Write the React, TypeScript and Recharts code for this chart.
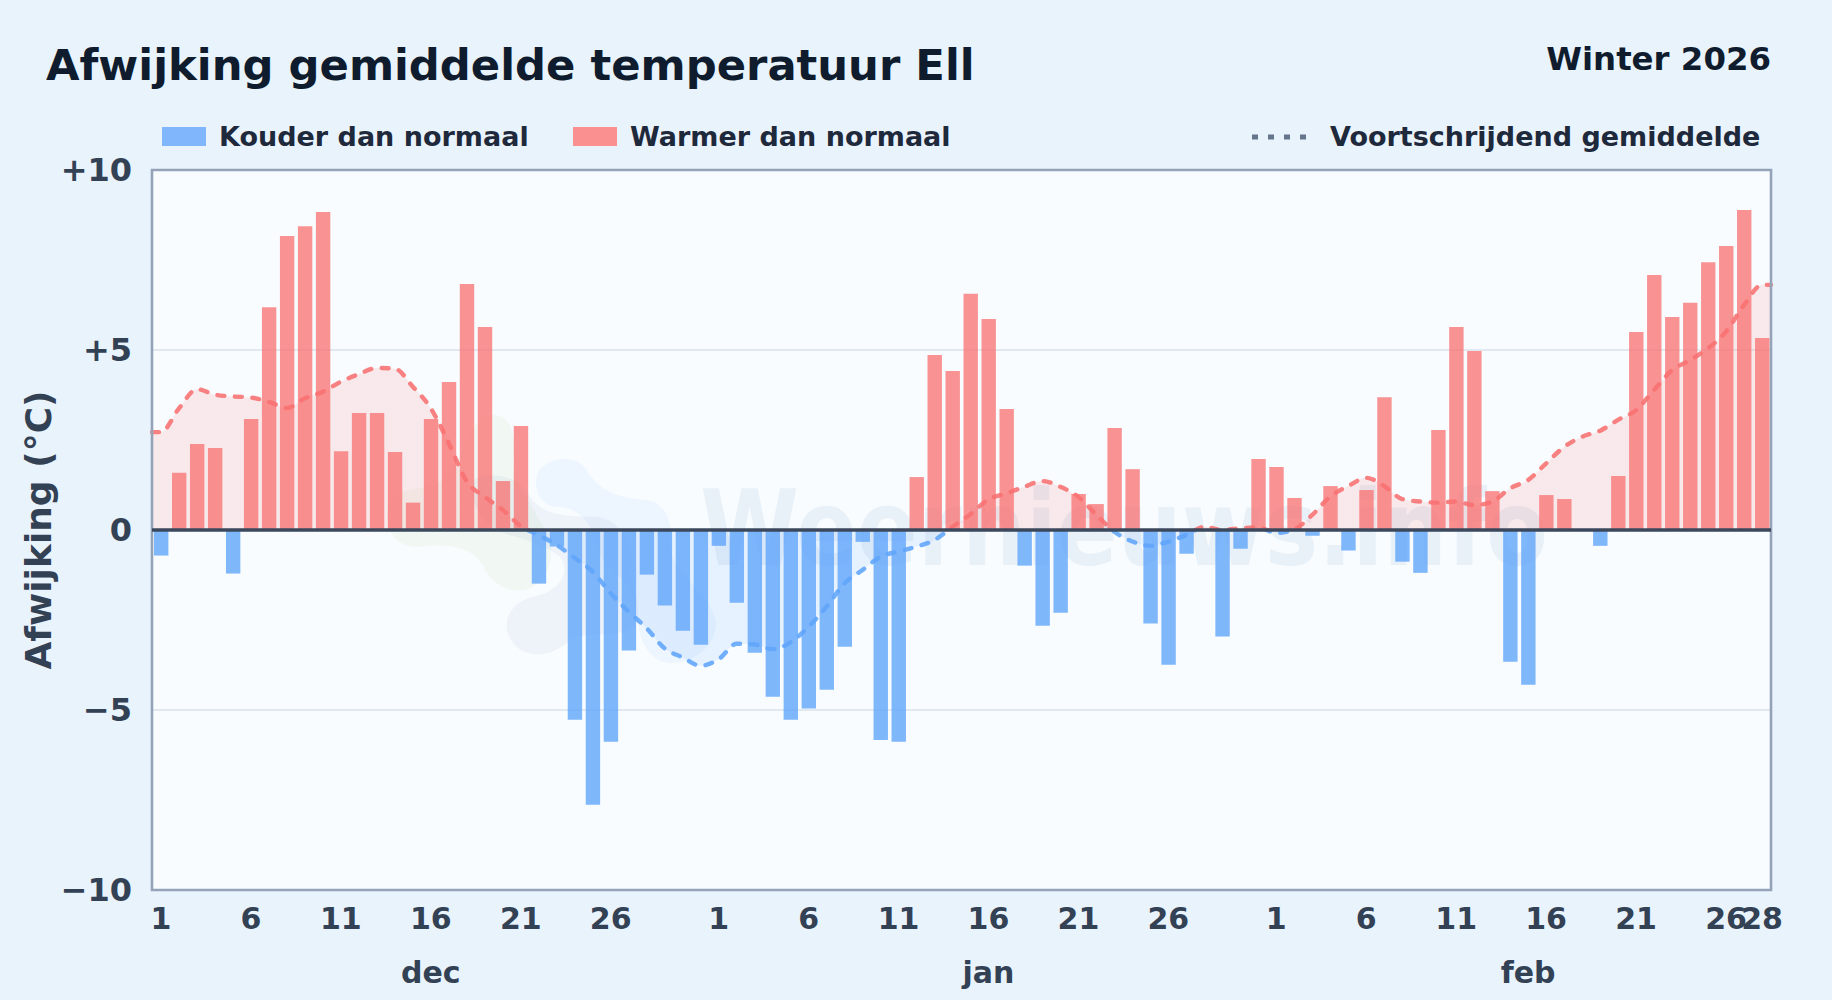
import React from "react";
import {
  Area,
  Bar,
  CartesianGrid,
  ComposedChart,
  ReferenceArea,
  ReferenceLine,
  XAxis,
  YAxis,
} from "recharts";

const FONT = '"DejaVu Sans", sans-serif';

const decValues = [
  -0.71, 1.59, 2.39, 2.28, -1.21, 3.08, 6.19, 8.17, 8.44, 8.83, 2.19, 3.25, 3.25, 2.17, 0.76, 3.08,
  4.11, 6.83, 5.64, 1.36, 2.89, -1.49, -0.46, -5.27, -7.63, -5.88, -3.35, -1.24, -2.1, -2.8, -3.19,
];
const janValues = [
  -0.44, -2.02, -3.41, -4.63, -5.27, -4.96, -4.44, -3.24, -0.33, -5.83, -5.88, 1.47, 4.86, 4.42, 6.56, 5.86,
  3.36, -0.99, -2.66, -2.3, 1.0, 0.72, 2.83, 1.69, -2.6, -3.74, -0.66, 0, -2.96, -0.52, 1.97,
];
const febValues = [
  1.75, 0.89, -0.16, 1.22, -0.57, 1.11, 3.69, -0.88, -1.19, 2.78, 5.64, 4.97, 1.08, -3.66, -4.3, 0.97, 0.86,
  0, -0.44, 1.5, 5.5, 7.08, 5.92, 6.31, 7.44, 7.89, 8.89, 5.33,
];
const decAverage = [
  2.72, 3.38, 3.91, 3.76, 3.71, 3.68, 3.56, 3.39, 3.66, 3.84, 4.12, 4.33, 4.5, 4.48, 3.98, 3.38,
  2.41, 1.35, 0.92, 0.56, 0.11, -0.14, -0.42, -0.78, -1.16, -1.76, -2.27, -2.73, -3.29, -3.54, -3.77,
];
const janAverage = [
  -3.59, -3.16, -3.18, -3.31, -3.12, -2.69, -2.13, -1.48, -1.11, -0.74, -0.6, -0.46, -0.28, 0.09, 0.44, 0.85,
  1.02, 1.2, 1.36, 1.2, 0.92, 0.42, -0.05, -0.32, -0.44, -0.32, -0.14, 0.09, 0, 0.05, 0.07,
];
const febAverage = [
  -0.08, 0.02, 0.42, 0.93, 1.22, 1.45, 1.22, 0.86, 0.79, 0.76, 0.79, 0.69, 0.79, 1.16, 1.39, 1.85, 2.31,
  2.59, 2.76, 3.06, 3.33, 3.89, 4.44, 4.72, 5.05, 5.51, 6.25, 6.81,
];

const dayLabels = ["1", "6", "11", "16", "21", "26", "1", "6", "11", "16", "21", "26", "1", "6", "11", "16", "21", "26", "28"];
const dayTicks = [0.5, 5.5, 10.5, 15.5, 20.5, 25.5, 31.5, 36.5, 41.5, 46.5, 51.5, 56.5, 62.5, 67.5, 72.5, 77.5, 82.5, 87.5, 89.5];
const monthLabels = ["dec", "jan", "feb"];
const monthTicks = [15.5, 46.5, 76.5];
const yTicks = [-10, -5, 0, 5, 10];
const yLabels = ["−10", "−5", "0", "+5", "+10"];

const values = [...decValues, ...janValues, ...febValues];
const average = [...decAverage, ...janAverage, ...febAverage];

const barRows = values.map((v, i) => ({
  x: i + 0.5,
  warm: v > 0 ? v : null,
  cold: v < 0 ? v : null,
}));
const averageRows = [
  { x: 0, avg: average[0] },
  ...average.map((v, i) => ({ x: i + 0.5, avg: v })),
  { x: 90, avg: average[average.length - 1] },
];

const PLOT = { left: 152, top: 170, right: 1771, bottom: 890 };
const TICK = { fill: "#334155", fontSize: 30, fontWeight: 700, fontFamily: FONT };
const Y_TICK = { ...TICK, fontSize: 32 };

function Legend() {
  const text: React.CSSProperties = {
    position: "absolute",
    top: 121,
    fontFamily: FONT,
    fontWeight: 700,
    fontSize: 27,
    lineHeight: "32px",
    color: "#1e293b",
    whiteSpace: "nowrap",
  };
  const swatch = (left: number, background: string): React.CSSProperties => ({
    position: "absolute",
    left,
    top: 127,
    width: 44,
    height: 19,
    background,
  });
  return (
    <>
      <div style={swatch(162, "#80b6fb")} />
      <div style={{ ...text, left: 219 }}>Kouder dan normaal</div>
      <div style={swatch(573, "#fa9090")} />
      <div style={{ ...text, left: 630 }}>Warmer dan normaal</div>
      <svg style={{ position: "absolute", left: 1250, top: 130 }} width={60} height={14}>
        <line x1={2} x2={58} y1={7} y2={7} stroke="#64748b" strokeWidth={5} strokeDasharray="6 10" />
      </svg>
      <div style={{ ...text, left: 1330 }}>Voortschrijdend gemiddelde</div>
    </>
  );
}

function Watermark() {
  return (
    <svg style={{ position: "absolute", left: 0, top: 0 }} width={1832} height={1000}>
      <rect x={PLOT.left} y={PLOT.top} width={PLOT.right - PLOT.left} height={PLOT.bottom - PLOT.top} fill="#f8fcff" />
      <g transform="translate(370 400) scale(0.3333)">
        <path
          d="M60,300 C80,260 200,270 230,230 C290,180 280,60 370,45 C420,40 440,110 430,170 C420,220 470,290 520,380 C560,440 550,520 490,560 C430,590 370,560 340,500 C310,440 230,430 150,440 C80,450 30,380 60,300 Z"
          fill="rgba(180,210,130,0.09)"
        />
        <path
          d="M310,240 C360,215 440,220 480,290 C520,350 600,350 680,350 C760,360 800,450 780,520 C800,600 820,640 790,680 C740,720 640,690 600,720 C550,770 470,780 430,730 C390,680 410,610 490,590 C580,570 600,510 570,470 C520,430 470,420 400,400 C340,380 290,300 310,240 Z"
          fill="rgba(30,80,140,0.05)"
        />
        <path
          d="M500,230 C510,180 610,150 650,210 C690,280 760,295 830,300 C890,310 910,370 900,430 C900,520 1000,560 1030,640 C1060,700 1000,790 900,790 C800,780 800,640 800,610 C790,540 690,510 680,430 C670,370 620,320 560,320 C520,320 490,280 500,230 Z"
          fill="rgba(96,165,250,0.07)"
        />
      </g>
      <text
        x={700}
        y={565}
        fontFamily={FONT}
        fontWeight={700}
        fontSize={105}
        textLength={848}
        lengthAdjust="spacingAndGlyphs"
        fill="rgba(37,99,165,0.075)"
      >
        Weernieuws.info
      </text>
    </svg>
  );
}

export default function App() {
  return (
    <div
      style={{
        position: "absolute",
        left: 0,
        top: 0,
        width: 1832,
        height: 1000,
        overflow: "hidden",
        background: "#e9f3fc",
      }}
    >
      <Watermark />
      <div
        style={{
          position: "absolute",
          left: 46,
          top: 40,
          fontFamily: FONT,
          fontWeight: 700,
          fontSize: 43.3,
          lineHeight: "50px",
          color: "#0f1c2e",
          whiteSpace: "nowrap",
        }}
      >
        Afwijking gemiddelde temperatuur Ell
      </div>
      <div
        style={{
          position: "absolute",
          right: 61,
          top: 39,
          fontFamily: FONT,
          fontWeight: 700,
          fontSize: 32.4,
          lineHeight: "40px",
          color: "#0f1c2e",
          whiteSpace: "nowrap",
        }}
      >
        Winter 2026
      </div>
      <Legend />
      <div style={{ position: "absolute", left: 0, top: 0 }}>
        <ComposedChart
          width={1832}
          height={1000}
          data={barRows}
          stackOffset="sign"
          margin={{ top: PLOT.top, left: 0, right: 1832 - PLOT.right, bottom: 0 }}
        >
          <defs>
            <linearGradient id="splitStroke" gradientUnits="userSpaceOnUse" x1={0} x2={0} y1={PLOT.top} y2={PLOT.bottom}>
              <stop offset="50%" stopColor="#f87171" />
              <stop offset="50%" stopColor="#60a5fa" />
            </linearGradient>
            <linearGradient id="splitFill" gradientUnits="userSpaceOnUse" x1={0} x2={0} y1={PLOT.top} y2={PLOT.bottom}>
              <stop offset="50%" stopColor="#f87171" stopOpacity={0.14} />
              <stop offset="50%" stopColor="#60a5fa" stopOpacity={0.12} />
            </linearGradient>
          </defs>
          <CartesianGrid vertical={false} stroke="#e2e8f0" strokeWidth={2} />
          <XAxis
            dataKey="x"
            type="number"
            domain={[0, 90]}
            ticks={dayTicks}
            interval={0}
            height={55}
            tickFormatter={(v: number) => dayLabels[dayTicks.indexOf(v)]}
            axisLine={false}
            tickLine={false}
            tickSize={0}
            tickMargin={18}
            tick={TICK}
          />
          <XAxis
            xAxisId="months"
            dataKey="x"
            type="number"
            domain={[0, 90]}
            ticks={monthTicks}
            interval={0}
            height={55}
            tickFormatter={(v: number) => monthLabels[monthTicks.indexOf(v)]}
            axisLine={false}
            tickLine={false}
            tickSize={0}
            tickMargin={17}
            tick={TICK}
          />
          <YAxis
            type="number"
            domain={[-10, 10]}
            ticks={yTicks}
            interval={0}
            width={PLOT.left}
            tickFormatter={(v: number) => yLabels[yTicks.indexOf(v)]}
            axisLine={false}
            tickLine={false}
            tickSize={0}
            tickMargin={20}
            tick={Y_TICK}
            label={{
              value: "Afwijking (°C)",
              angle: -90,
              position: "insideLeft",
              offset: 38,
              style: { ...TICK, fontSize: 36, textAnchor: "middle" },
            }}
          />
          <Area
            xAxisId="months"
            data={averageRows}
            dataKey="avg"
            type="monotone"
            baseValue={0}
            stroke="url(#splitStroke)"
            strokeOpacity={0.88}
            strokeWidth={4.4}
            strokeDasharray="7 10.5"
            strokeLinecap="round"
            fill="url(#splitFill)"
            fillOpacity={1}
            dot={false}
            activeDot={false}
            isAnimationActive={false}
          />
          <Bar dataKey="cold" stackId="days" fill="#60a5fa" fillOpacity={0.8} barSize={14.4} isAnimationActive={false} />
          <Bar dataKey="warm" stackId="days" fill="#f87171" fillOpacity={0.76} barSize={14.4} isAnimationActive={false} />
          <ReferenceLine y={0} stroke="#3b485c" strokeWidth={3.6} />
          <ReferenceArea
            x1={0}
            x2={90}
            y1={-10}
            y2={10}
            fill="none"
            stroke="#94a3b8"
            strokeWidth={2.6}
            ifOverflow="visible"
          />
        </ComposedChart>
      </div>
    </div>
  );
}
